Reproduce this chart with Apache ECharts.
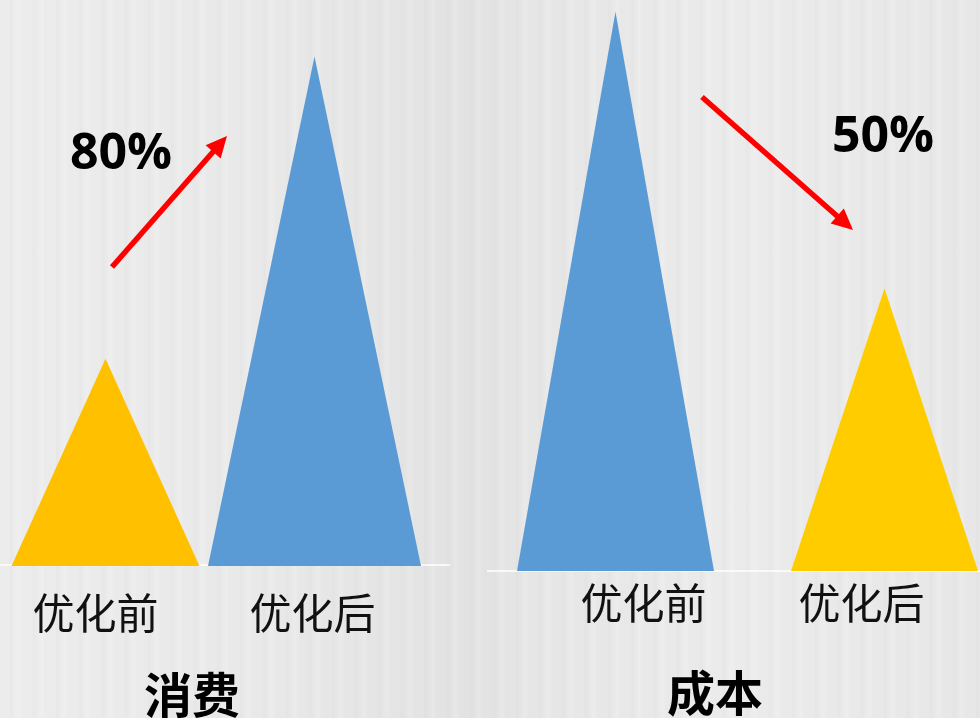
<!DOCTYPE html>
<html>
<head>
<meta charset="utf-8">
<title>消费 / 成本</title>
<script src="https://cdn.jsdelivr.net/npm/echarts@6/dist/echarts.min.js"></script>
<style>
  html, body { margin: 0; padding: 0; }
  body {
    width: 980px; height: 718px; overflow: hidden;
    background-color: #e8e8e8;
    background-image:
      repeating-linear-gradient(90deg, rgba(255,255,255,0) 0px, rgba(255,255,255,0) 9px, rgba(200,200,200,.12) 11px, rgba(255,255,255,0) 14px, rgba(255,255,255,.18) 19px, rgba(255,255,255,0) 23px),
      linear-gradient(90deg, #ececec 0%, #e9e9e9 25%, #e2e2e2 48%, #e6e6e6 55%, #ebebeb 75%, #e7e7e7 100%);
  }
  #chart { width: 980px; height: 718px; }
</style>
</head>
<body>
<div id="chart"></div>
<script>
// categories
const stages = ['优化前', '优化后'];
const panelTitles = ['消费', '成本'];
const changeLabels = ['80%', '50%'];

// values (same 0-100 scale in each panel)
const consumption = [37, 91];
const cost = [99, 50];

const yellow = ['#FFC000', '#FFCC00'];
const blue = '#5B9BD5';

const chart = echarts.init(document.getElementById('chart'));

function arrow(x1, y1, x2, y2) {
  const ang = Math.atan2(y2 - y1, x2 - x1);
  const len = 21, half = 10;
  const bx = x2 - len * Math.cos(ang), by = y2 - len * Math.sin(ang);
  const nx = -Math.sin(ang), ny = Math.cos(ang);
  return [
    {
      type: 'line',
      shape: { x1: x1, y1: y1, x2: bx + 2 * Math.cos(ang), y2: by + 2 * Math.sin(ang) },
      style: { stroke: '#FF0000', lineWidth: 5.5 }
    },
    {
      type: 'polygon',
      shape: { points: [[x2, y2], [bx + nx * half, by + ny * half], [bx - nx * half, by - ny * half]] },
      style: { fill: '#FF0000' }
    }
  ];
}

const labelFont = { fontFamily: 'Noto Sans CJK SC', fontSize: 42, color: '#111' };
const titleFont = { fontFamily: 'Noto Sans CJK SC', fontWeight: 'bold', fontSize: 48, color: '#000' };

function series(idx, values, colors, widths, offsets) {
  return {
    type: 'pictorialBar',
    xAxisIndex: idx,
    yAxisIndex: idx,
    symbol: 'triangle',
    symbolRepeat: false,
    barCategoryGap: '0%',
    data: values.map((v, i) => ({
      value: v,
      symbolSize: [widths[i], '100%'],
      itemStyle: { color: colors[i] },
      label: {
        show: true,
        position: 'bottom',
        distance: 0,
        offset: offsets[i],
        formatter: '{b}',
        ...labelFont
      }
    }))
  };
}

const option = {
  backgroundColor: 'transparent',
  animation: false,
  grid: [
    { left: 1, width: 418, top: 6, height: 560, outerBoundsMode: 'none', containLabel: false },
    { left: 481, width: 538, top: 6, height: 565, outerBoundsMode: 'none', containLabel: false }
  ],
  xAxis: [0, 1].map(i => ({
    type: 'category',
    gridIndex: i,
    data: stages,
    axisLine: { show: false },
    axisTick: { show: false },
    axisLabel: { show: false }
  })),
  yAxis: [0, 1].map(i => ({
    type: 'value',
    gridIndex: i,
    min: 0,
    max: 100,
    show: false,
    splitLine: { show: false }
  })),
  title: [
    { text: panelTitles[0], left: 187, top: 666, textAlign: 'center', textStyle: titleFont },
    { text: panelTitles[1], left: 710, top: 664, textAlign: 'center', textStyle: titleFont }
  ],
  graphic: [
    { type: 'line', shape: { x1: 0, y1: 565, x2: 450, y2: 565 }, style: { stroke: '#ffffff', lineWidth: 1.5 }, z: 0 },
    { type: 'line', shape: { x1: 487, y1: 571, x2: 980, y2: 571 }, style: { stroke: '#ffffff', lineWidth: 1.5 }, z: 0 },
    ...arrow(112, 267, 227, 136),
    ...arrow(702, 97, 853, 230),
    {
      type: 'text', x: 121, y: 155,
      style: { text: changeLabels[0], fontFamily: 'Open Sans', fontWeight: 'bold', fontSize: 50, fill: '#000', align: 'center', verticalAlign: 'middle' }
    },
    {
      type: 'text', x: 883, y: 138,
      style: { text: changeLabels[1], fontFamily: 'Open Sans', fontWeight: 'bold', fontSize: 50, fill: '#000', align: 'center', verticalAlign: 'middle' }
    }
  ],
  series: [
    series(0, consumption, [yellow[0], blue], [188, 213], [[-10, 26], [-2, 26]]),
    series(1, cost, [blue, yellow[1]], [197, 187], [[28, 11], [-23, 11]])
  ]
};

chart.setOption(option);
window.addEventListener('resize', () => chart.resize());
</script>
</body>
</html>
